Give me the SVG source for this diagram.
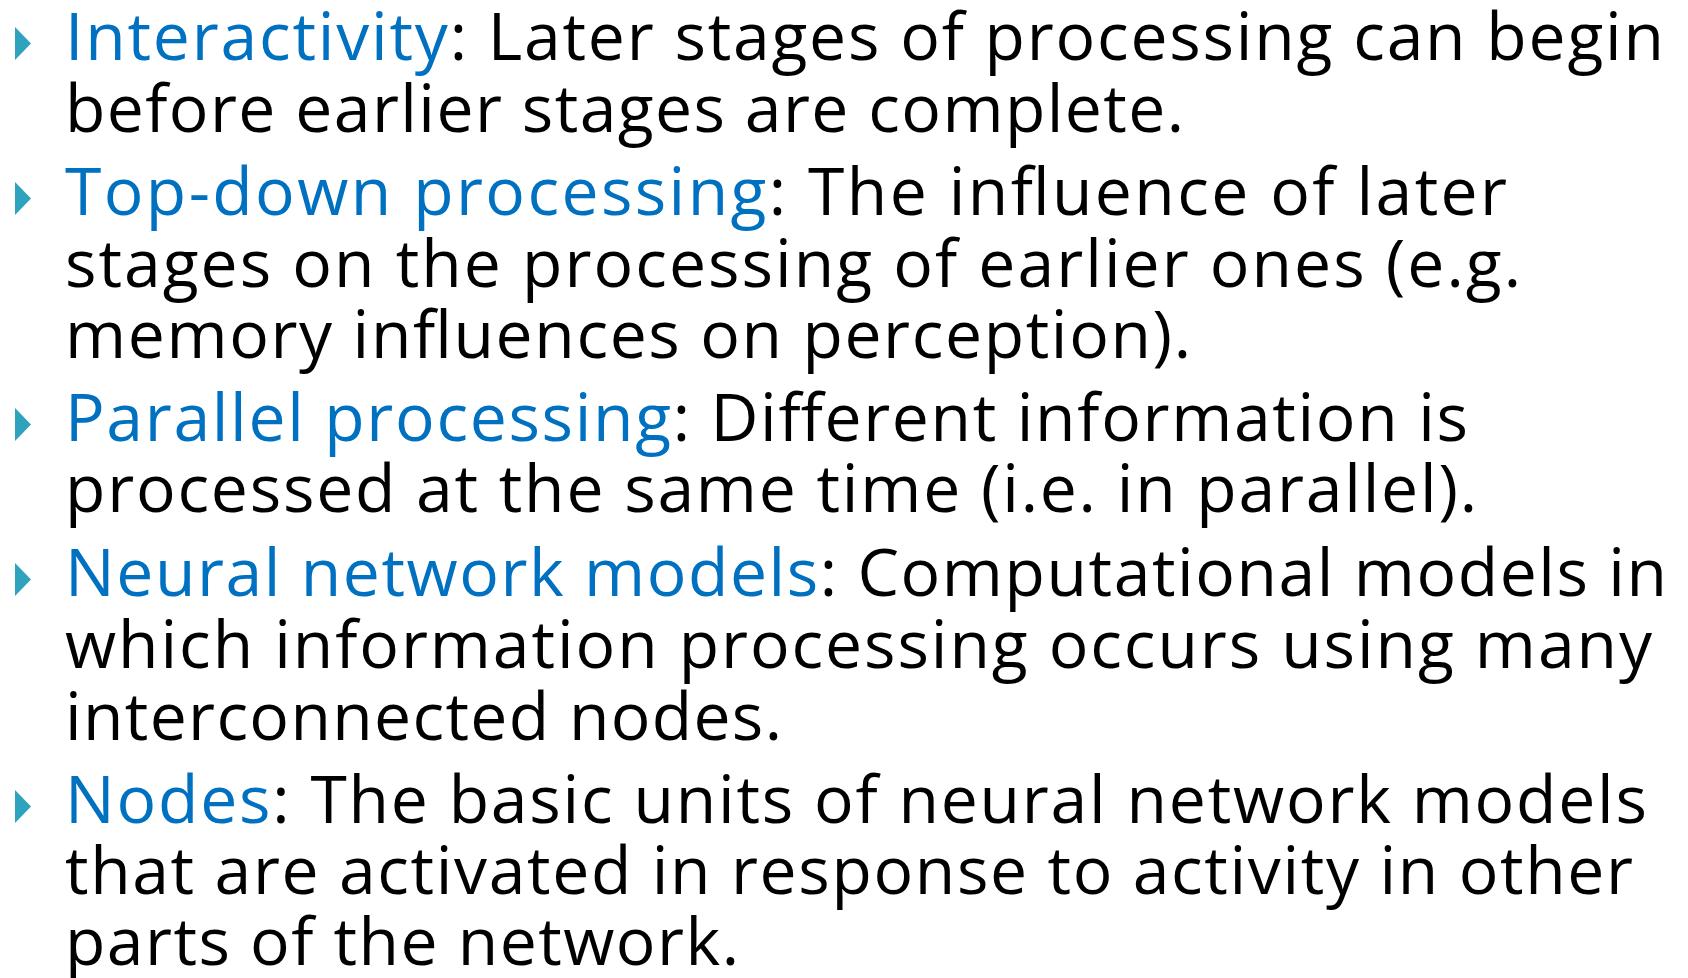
<svg xmlns="http://www.w3.org/2000/svg" width="1688" height="978" viewBox="0 0 1688 978">
  <style>
    .txt { font-family: "Open Sans", "Liberation Sans", sans-serif; font-size: 66px; fill: #000000; }
    .term { fill: #0070C0; }
    .mark { fill: #2FA3BD; }
  </style>
  <defs>
    <!-- bullet marker, tip pointing right, base aligned to the text baseline -->
    <polygon id="bullet" class="mark" points="15,-33 31,-16.5 15,0"/>
  </defs>
  <rect width="1688" height="978" fill="#FFFFFF"/>

  <g id="interactivity">
    <use href="#bullet" y="60"/>
    <text class="txt" x="65" y="60" textLength="1599"><tspan class="term">Interactivity</tspan>: Later stages of processing can begin</text>
    <text class="txt" x="65" y="132" textLength="1119">before earlier stages are complete.</text>
  </g>

  <g id="top-down">
    <use href="#bullet" y="215"/>
    <text class="txt" x="65" y="215" textLength="1442"><tspan class="term">Top-down processing</tspan>: The influence of later</text>
    <text class="txt" x="65" y="287" textLength="1456">stages on the processing of earlier ones (e.g.</text>
    <text class="txt" x="65" y="358" textLength="1126">memory influences on perception).</text>
  </g>

  <g id="parallel">
    <use href="#bullet" y="441"/>
    <text class="txt" x="65" y="441" textLength="1403"><tspan class="term">Parallel processing</tspan>: Different information is</text>
    <text class="txt" x="65" y="512" textLength="1412">processed at the same time (i.e. in parallel).</text>
  </g>

  <g id="neural-network">
    <use href="#bullet" y="596"/>
    <text class="txt" x="65" y="596" textLength="1602"><tspan class="term">Neural network models</tspan>: Computational models in</text>
    <text class="txt" x="65" y="668" textLength="1587">which information processing occurs using many</text>
    <text class="txt" x="65" y="740" textLength="717">interconnected nodes.</text>
  </g>

  <g id="nodes">
    <use href="#bullet" y="823"/>
    <text class="txt" x="65" y="823" textLength="1582"><tspan class="term">Nodes</tspan>: The basic units of neural network models</text>
    <text class="txt" x="65" y="894" textLength="1568">that are activated in response to activity in other</text>
    <text class="txt" x="65" y="965" textLength="674">parts of the network.</text>
  </g>

  <g id="connectors"/>
</svg>
